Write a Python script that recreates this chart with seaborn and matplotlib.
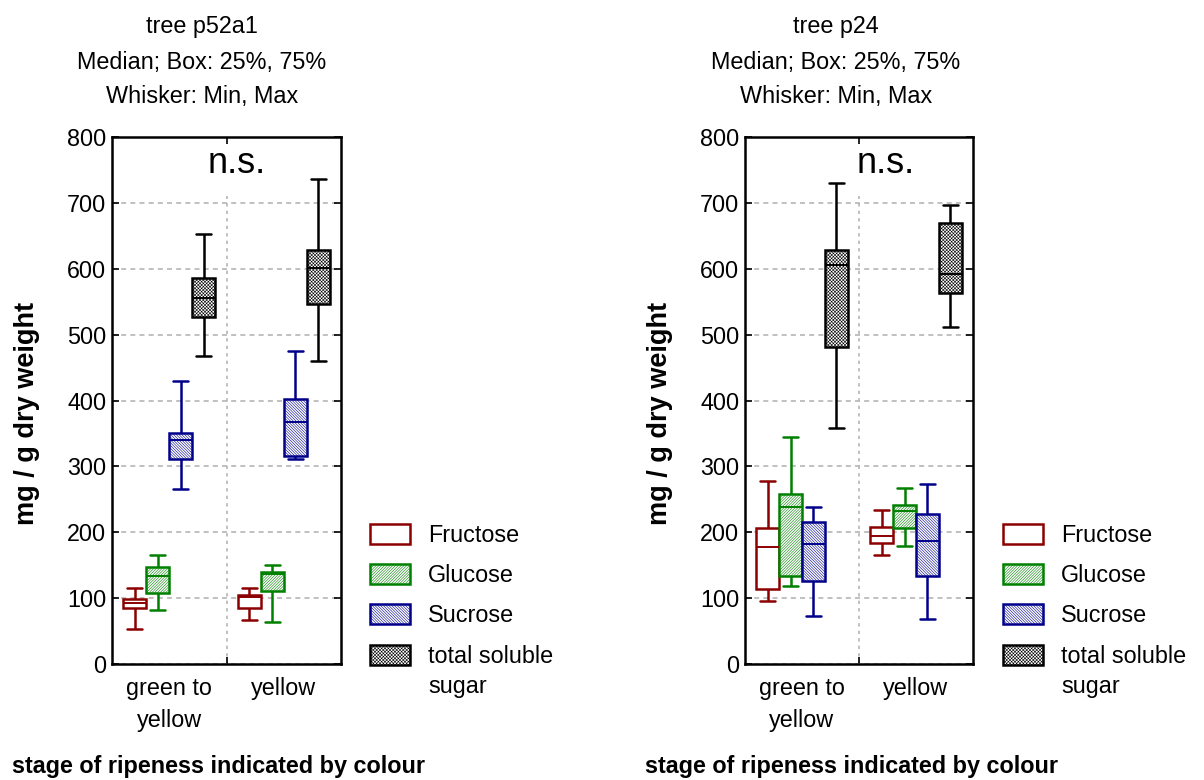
import numpy as np
import pandas as pd
import matplotlib
matplotlib.use("Agg")
import matplotlib.pyplot as plt
from matplotlib.patches import Rectangle
import seaborn as sns

# Categories
stages = ["green to\nyellow", "yellow"]
sugars = ["Fructose", "Glucose", "Sucrose", "total soluble\nsugar"]

# Five-number summaries per stage: [min, 25%, median, 75%, max]  (mg / g dry weight)
p52a1_fructose = [[53, 85, 92, 99, 116], [67, 85, 101, 104, 116]]
p52a1_glucose = [[82, 108, 134, 147, 166], [63, 111, 137, 140, 150]]
p52a1_sucrose = [[265, 311, 340, 350, 430], [311, 315, 367, 402, 475]]
p52a1_total = [[468, 527, 556, 586, 653], [460, 547, 601, 628, 737]]

p24_fructose = [[96, 114, 177, 206, 278], [166, 183, 195, 208, 234]]
p24_glucose = [[119, 134, 238, 258, 345], [179, 207, 233, 241, 267]]
p24_sucrose = [[73, 126, 182, 216, 239], [68, 134, 186, 228, 274]]
p24_total = [[359, 481, 605, 628, 730], [512, 563, 592, 670, 697]]

trees = ["tree p52a1", "tree p24"]
tree_data = {
    "tree p52a1": [p52a1_fructose, p52a1_glucose, p52a1_sucrose, p52a1_total],
    "tree p24": [p24_fructose, p24_glucose, p24_sucrose, p24_total],
}

edge_colors = {
    "Fructose": "#8b0000",
    "Glucose": "#008000",
    "Sucrose": "#00008b",
    "total soluble\nsugar": "#000000",
}
hatches = {
    "Fructose": None,
    "Glucose": "/" * 12,
    "Sucrose": "\\" * 12,
    "total soluble\nsugar": "x" * 10,
}

sns.set_theme(style="white")
plt.rcParams["font.family"] = ["Liberation Sans", "DejaVu Sans"]
plt.rcParams["hatch.linewidth"] = 0.4
plt.rcParams["text.color"] = "black"

FS = 16.8
W, H = 1204, 780

fig = plt.figure(figsize=(W / 100, H / 100), dpi=100)


def fx(px):
    return px / W


def fy(py):
    return 1 - py / H


def long_frame(series):
    rows = []
    for name, per_stage in zip(sugars, series):
        for stage, summary in zip(stages, per_stage):
            for v in summary:
                rows.append({"sugar": name, "stage": stage, "value": v})
    return pd.DataFrame(rows)


panels = [
    dict(tree="tree p52a1", left=112, right=341, tx=202, ns=0.546, ylx=27, xlx=12, lgx=370),
    dict(tree="tree p24", left=745, right=973, tx=836, ns=0.618, ylx=660, xlx=645, lgx=1003),
]
ax_top, ax_bottom = 137, 664

for p in panels:
    ax = fig.add_axes([fx(p["left"]), fy(ax_bottom), fx(p["right"] - p["left"]),
                       (ax_bottom - ax_top) / H])
    df = long_frame(tree_data[p["tree"]])
    for name in sugars:
        c = edge_colors[name]
        sns.boxplot(
            data=df[df["sugar"] == name], x="stage", y="value", hue="sugar",
            order=stages, hue_order=sugars, palette=edge_colors,
            dodge=True, width=0.8, gap=0, whis=(0, 100), showfliers=False,
            linecolor=c, linewidth=1.8, legend=False, ax=ax, capwidths=0.13,
            boxprops=dict(facecolor="white", edgecolor=c, hatch=hatches[name]),
            medianprops=dict(color=c, linewidth=1.4),
        )

    ax.set_xlabel("")
    ax.set_ylabel("")
    ax.set_xlim(-0.5, 1.5)
    ax.set_ylim(0, 800)
    ax.set_yticks(np.arange(0, 801, 100))
    ax.tick_params(axis="y", direction="in", left=True, right=True, length=5,
                   width=1.2, labelsize=FS, pad=4, colors="black")
    ax.set_xticks([0, 1])
    ax.set_xticklabels(stages, linespacing=1.5)
    ax.tick_params(axis="x", which="major", length=0, labelsize=FS, pad=9,
                   labelcolor="black")
    ax.set_xticks([0.5], minor=True)
    ax.tick_params(axis="x", which="minor", direction="in", bottom=True, top=True,
                   length=5, width=1.2, color="black")

    ax.yaxis.grid(True, linestyle=(0, (3, 2.5)), color="#b5b5b5", linewidth=1.2)
    ax.xaxis.grid(False)
    ax.axvline(0.5, ymin=0, ymax=710 / 800, linestyle=(0, (2, 2.5)), color="#b5b5b5",
               linewidth=1.2, zorder=0.5)
    ax.set_axisbelow(True)
    for s in ax.spines.values():
        s.set_color("black")
        s.set_linewidth(1.8)
        s.set_visible(True)

    ax.text(p["ns"], 760, "n.s.", transform=ax.get_yaxis_transform(),
            ha="center", va="center", fontsize=26, color="black")

    # titles
    tx = fx(p["tx"])
    for txt, py in zip([p["tree"], "Median; Box: 25%, 75%", "Whisker: Min, Max"], [27, 62, 97]):
        fig.text(tx, fy(py), txt, ha="center", va="center", fontsize=FS, color="black")

    # axis labels
    fig.text(fx(p["ylx"]), fy(413), "mg / g dry weight", rotation=90, ha="center",
             va="center", fontsize=19.5, fontweight="bold", color="black")
    fig.text(fx(p["xlx"]), fy(766), "stage of ripeness indicated by colour", ha="left",
             va="center", fontsize=FS, fontweight="bold", color="black")

    # legend
    for i, name in enumerate(sugars):
        cy = 533.5 + 40.4 * i
        c = edge_colors[name]
        fig.add_artist(Rectangle((fx(p["lgx"]), fy(cy + 10)), fx(40), 20 / H,
                                 transform=fig.transFigure, facecolor="white",
                                 edgecolor=c, hatch=hatches[name], linewidth=1.8))
        for j, line in enumerate(name.split("\n")):
            fig.text(fx(p["lgx"] + 58), fy(cy + 8.2 + 30 * j), line, ha="left",
                     va="baseline", fontsize=FS, color="black")

fig.savefig("out.png", dpi=100, facecolor="white")
